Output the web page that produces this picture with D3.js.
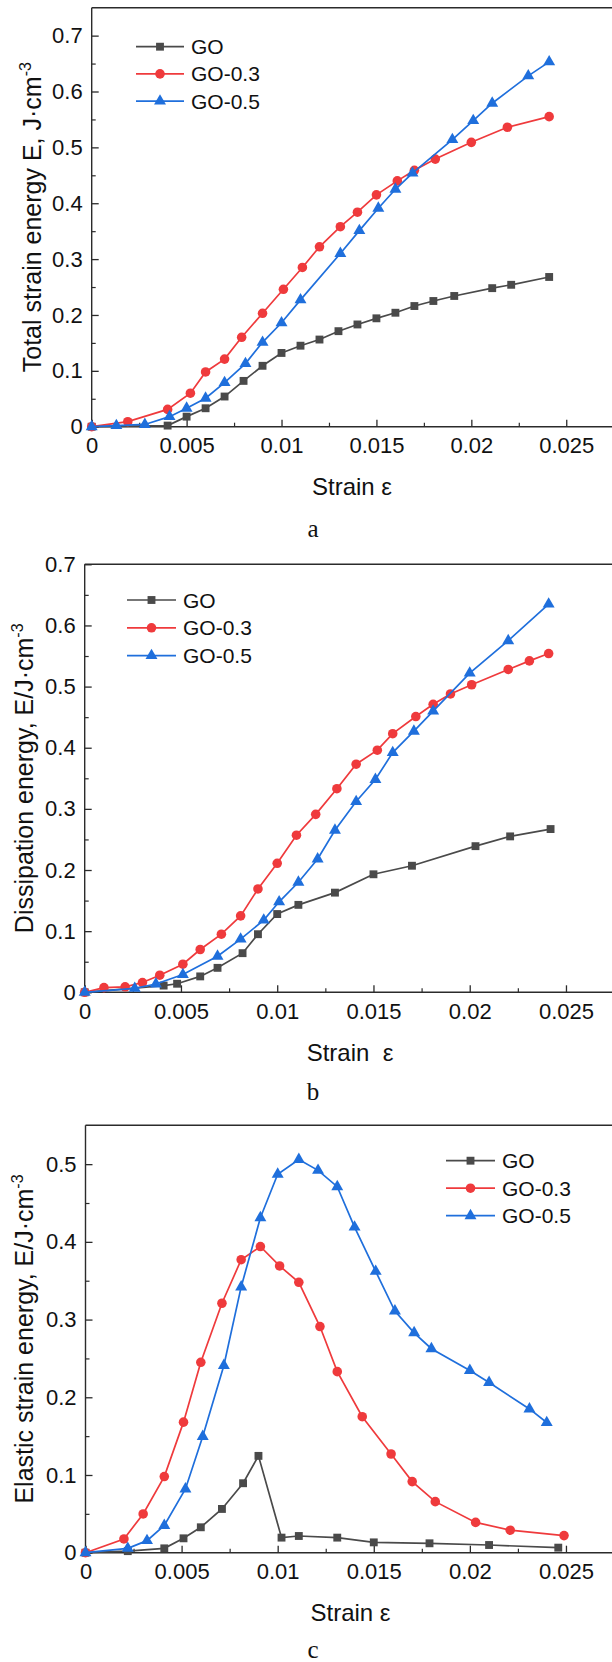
<!DOCTYPE html>
<html>
<head>
<meta charset="utf-8">
<script src="https://cdn.jsdelivr.net/npm/d3@7/dist/d3.min.js"></script>
<style>
  html, body { margin: 0; padding: 0; background: #fff; }
  svg { display: block; }
  text { font-family: "Liberation Sans", Arial, sans-serif; fill: #111; }
  .caption { font-family: "Liberation Serif", "Times New Roman", serif; }
</style>
</head>
<body>
<svg id="fig" width="612" height="1662"></svg>
<script>
// ---------- data ----------
const seriesNames = ["GO", "GO-0.3", "GO-0.5"];
const seriesColors = ["#4a4a4a", "#ef3a3c", "#1f6fdc"];
const seriesSymbols = ["square", "circle", "triangle"];

const xTickValues = [0, 0.005, 0.01, 0.015, 0.02, 0.025];
const xTickLabels = ["0", "0.005", "0.01", "0.015", "0.02", "0.025"];
const yTickLabelsA = ["0", "0.1", "0.2", "0.3", "0.4", "0.5", "0.6", "0.7"];
const yTickLabelsB = ["0", "0.1", "0.2", "0.3", "0.4", "0.5", "0.6", "0.7"];
const yTickLabelsC = ["0", "0.1", "0.2", "0.3", "0.4", "0.5"];

// (a) total strain energy
const totalStrainGO  = [0, 0.004, 0.005, 0.006, 0.007, 0.008, 0.009, 0.010, 0.011, 0.012, 0.013, 0.014, 0.015, 0.016, 0.017, 0.018, 0.0191, 0.0211, 0.0221, 0.0241];
const totalEnergyGO  = [0, 0.002, 0.018, 0.033, 0.054, 0.082, 0.109, 0.132, 0.145, 0.156, 0.171, 0.183, 0.194, 0.204, 0.216, 0.225, 0.234, 0.248, 0.254, 0.268];
const totalStrainG03 = [0, 0.0019, 0.0040, 0.0052, 0.0060, 0.0070, 0.0079, 0.0090, 0.0101, 0.0111, 0.0120, 0.0131, 0.0140, 0.0150, 0.0161, 0.0170, 0.0181, 0.0200, 0.0219, 0.0241];
const totalEnergyG03 = [0, 0.009, 0.031, 0.060, 0.098, 0.121, 0.160, 0.203, 0.246, 0.285, 0.322, 0.358, 0.384, 0.415, 0.440, 0.459, 0.479, 0.509, 0.536, 0.555];
const totalStrainG05 = [0, 0.0013, 0.0028, 0.0041, 0.0050, 0.0060, 0.0070, 0.0081, 0.0090, 0.0100, 0.0110, 0.0131, 0.0141, 0.0151, 0.0160, 0.0169, 0.0190, 0.0201, 0.0211, 0.0230, 0.0241];
const totalEnergyG05 = [0, 0.002, 0.004, 0.018, 0.033, 0.051, 0.079, 0.113, 0.151, 0.186, 0.227, 0.310, 0.351, 0.391, 0.425, 0.454, 0.514, 0.548, 0.579, 0.628, 0.653];

// (b) dissipation energy
const dissStrainGO  = [0, 0.0041, 0.0048, 0.0060, 0.0069, 0.0082, 0.0090, 0.0100, 0.0111, 0.0130, 0.0150, 0.0170, 0.0203, 0.0221, 0.0242];
const dissEnergyGO  = [0, 0.011, 0.014, 0.026, 0.040, 0.064, 0.095, 0.128, 0.143, 0.163, 0.193, 0.207, 0.239, 0.255, 0.267];
const dissStrainG03 = [0, 0.0010, 0.0021, 0.0030, 0.0039, 0.0051, 0.0060, 0.0071, 0.0081, 0.0090, 0.0100, 0.0110, 0.0120, 0.0131, 0.0141, 0.0152, 0.0160, 0.0172, 0.0181, 0.0190, 0.0201, 0.0220, 0.0231, 0.0241];
const dissEnergyG03 = [0, 0.0076, 0.009, 0.016, 0.028, 0.046, 0.070, 0.095, 0.125, 0.169, 0.211, 0.257, 0.291, 0.333, 0.373, 0.396, 0.423, 0.451, 0.471, 0.488, 0.503, 0.528, 0.542, 0.554];
const dissStrainG05 = [0, 0.0026, 0.0037, 0.0051, 0.0069, 0.0081, 0.0093, 0.0101, 0.0111, 0.0121, 0.0130, 0.0141, 0.0151, 0.0160, 0.0171, 0.0181, 0.0200, 0.0220, 0.0241];
const dissEnergyG05 = [0, 0.0065, 0.0136, 0.029, 0.059, 0.087, 0.118, 0.148, 0.180, 0.218, 0.265, 0.312, 0.348, 0.392, 0.427, 0.460, 0.522, 0.575, 0.635];

// (c) elastic strain energy
const elasStrainGO  = [0, 0.0022, 0.0041, 0.0051, 0.0060, 0.0071, 0.0082, 0.0090, 0.0102, 0.0111, 0.0131, 0.0150, 0.0179, 0.0210, 0.0246];
const elasEnergyGO  = [0, 0.002, 0.0056, 0.0185, 0.0327, 0.0563, 0.0894, 0.1246, 0.0194, 0.0215, 0.0194, 0.0133, 0.0121, 0.0099, 0.0065];
const elasStrainG03 = [0, 0.0020, 0.0030, 0.0041, 0.0051, 0.0060, 0.0071, 0.0081, 0.0091, 0.0101, 0.0111, 0.0122, 0.0131, 0.0144, 0.0159, 0.0170, 0.0182, 0.0203, 0.0221, 0.0249];
const elasEnergyG03 = [0, 0.0177, 0.0499, 0.098, 0.168, 0.245, 0.321, 0.377, 0.394, 0.369, 0.348, 0.291, 0.233, 0.175, 0.127, 0.0915, 0.0657, 0.039, 0.029, 0.022];
const elasStrainG05 = [0, 0.0022, 0.0032, 0.0041, 0.0052, 0.0061, 0.0072, 0.0081, 0.0091, 0.0100, 0.0111, 0.0121, 0.0131, 0.0140, 0.0151, 0.0161, 0.0171, 0.0180, 0.0200, 0.0210, 0.0231, 0.0240];
const elasEnergyG05 = [0, 0.0056, 0.0155, 0.035, 0.082, 0.1495, 0.241, 0.342, 0.431, 0.487, 0.506, 0.492, 0.471, 0.419, 0.362, 0.311, 0.283, 0.2625, 0.2345, 0.219, 0.185, 0.1675];

// ---------- drawing ----------
const svg = d3.select("#fig");
svg.append("rect").attr("width", 612).attr("height", 1662).attr("fill", "#fff");

const AXIS_COLOR = "#2b2b2b";

function symbolPath(kind) {
  if (kind === "square") return d3.symbol().type(d3.symbolSquare).size(62)();
  if (kind === "circle") return d3.symbol().type(d3.symbolCircle).size(72)();
  return d3.symbol().type(d3.symbolTriangle).size(62)();
}

function drawPanel(p) {
  const g = svg.append("g");
  const x = d3.scaleLinear().domain([0, 0.0275]).range([p.left, p.right]);
  const y = d3.scaleLinear().domain([0, p.yMax]).range([p.bottom, p.top]);

  // top frame line (the right side runs off the page)
  g.append("line")
    .attr("x1", p.left).attr("x2", p.right + 4)
    .attr("y1", p.top).attr("y2", p.top)
    .attr("stroke", AXIS_COLOR).attr("stroke-width", 1.4);

  // minor ticks
  const xMinor = d3.range(0, 0.0276, 0.0025).filter(v => Math.round(v / 0.0025) % 2 === 1);
  g.append("g").attr("transform", `translate(0,${p.bottom})`)
    .call(d3.axisBottom(x).tickValues(xMinor).tickSize(-4).tickFormat(""))
    .call(s => s.select(".domain").remove())
    .selectAll("line").attr("stroke", AXIS_COLOR).attr("stroke-width", 1.2);
  const yMinor = d3.range(0.05, p.yMax, 0.1);
  g.append("g").attr("transform", `translate(${p.left},0)`)
    .call(d3.axisLeft(y).tickValues(yMinor).tickSize(-4).tickFormat(""))
    .call(s => s.select(".domain").remove())
    .selectAll("line").attr("stroke", AXIS_COLOR).attr("stroke-width", 1.2);

  // major axes
  const xAxis = g.append("g").attr("transform", `translate(0,${p.bottom})`)
    .call(d3.axisBottom(x).tickValues(xTickValues).tickSizeInner(-7).tickSizeOuter(0)
      .tickPadding(11).tickFormat((d, i) => xTickLabels[i]));
  const yVals = p.yLabels.map(Number);
  const yAxis = g.append("g").attr("transform", `translate(${p.left},0)`)
    .call(d3.axisLeft(y).tickValues(yVals).tickSizeInner(-7).tickSizeOuter(0)
      .tickPadding(9).tickFormat((d, i) => p.yLabels[i]));
  [xAxis, yAxis].forEach(a => {
    a.select(".domain").attr("stroke", AXIS_COLOR).attr("stroke-width", 1.4);
    a.selectAll(".tick line").attr("stroke", AXIS_COLOR).attr("stroke-width", 1.3);
    a.selectAll(".tick text").attr("font-size", 22).attr("font-family", "Liberation Sans, Arial, sans-serif").attr("fill", "#111");
  });
  xAxis.select(".domain").attr("d", `M${p.left},0H${p.right + 4}`);
  yAxis.select(".domain").attr("d", `M0,${p.bottom}V${p.top}`);

  // series: connecting line plus markers
  const line = d3.line().x(d => x(d[0])).y(d => y(d[1]));
  p.series.forEach((s, i) => {
    const pts = s.xs.map((v, k) => [v, s.ys[k]]);
    g.append("path").datum(pts)
      .attr("d", line).attr("fill", "none")
      .attr("stroke", seriesColors[i]).attr("stroke-width", 1.7);
    g.append("g").selectAll("path").data(pts).join("path")
      .attr("d", symbolPath(seriesSymbols[i]))
      .attr("transform", d => `translate(${x(d[0])},${y(d[1])})`)
      .attr("fill", seriesColors[i]);
  });

  // legend
  seriesNames.forEach((name, i) => {
    const ly = p.legend.y0 + i * p.legend.dy;
    g.append("line")
      .attr("x1", p.legend.x1).attr("x2", p.legend.x2)
      .attr("y1", ly).attr("y2", ly)
      .attr("stroke", seriesColors[i]).attr("stroke-width", 1.7);
    g.append("path").attr("d", symbolPath(seriesSymbols[i]))
      .attr("transform", `translate(${(p.legend.x1 + p.legend.x2) / 2},${ly})`)
      .attr("fill", seriesColors[i]);
    g.append("text").attr("x", p.legend.x2 + 7).attr("y", ly).attr("dy", "0.36em")
      .attr("font-size", 21).text(name);
  });

  // axis titles
  g.append("text").attr("x", p.xTitle.x).attr("y", p.xTitle.y)
    .attr("text-anchor", "middle").attr("font-size", 24)
    .style("white-space", "pre").text(p.xTitle.text);
  const yt = g.append("text")
    .attr("transform", `translate(${p.yTitle.x},${(p.top + p.bottom) / 2}) rotate(-90)`)
    .attr("text-anchor", "middle").attr("font-size", 25).style("white-space", "pre");
  yt.append("tspan").text(p.yTitle.text);
  yt.append("tspan").attr("dy", "-0.62em").attr("font-size", 16).text("-3");

  // panel caption
  g.append("text").attr("class", "caption")
    .attr("x", 313).attr("y", p.caption.y)
    .attr("text-anchor", "middle").attr("font-size", 25)
    .text(p.caption.text);
}

drawPanel({
  left: 91.7, right: 613.7, top: 7.7, bottom: 426.7, yMax: 0.75, yLabels: yTickLabelsA,
  series: [
    { xs: totalStrainGO, ys: totalEnergyGO },
    { xs: totalStrainG03, ys: totalEnergyG03 },
    { xs: totalStrainG05, ys: totalEnergyG05 }
  ],
  legend: { x1: 136, x2: 184, y0: 46.7, dy: 27.2 },
  xTitle: { x: 352, y: 495, text: "Strain ε" },
  yTitle: { x: 41, text: "Total strain energy E, J·cm" },
  caption: { y: 537, text: "a" }
});

drawPanel({
  left: 84.7, right: 614.1, top: 564.3, bottom: 992.3, yMax: 0.7, yLabels: yTickLabelsB,
  series: [
    { xs: dissStrainGO, ys: dissEnergyGO },
    { xs: dissStrainG03, ys: dissEnergyG03 },
    { xs: dissStrainG05, ys: dissEnergyG05 }
  ],
  legend: { x1: 127, x2: 176, y0: 600, dy: 27.8 },
  xTitle: { x: 350, y: 1060.5, text: "Strain  ε" },
  yTitle: { x: 33, text: "Dissipation energy, E/J·cm" },
  caption: { y: 1100, text: "b" }
});

drawPanel({
  left: 85.5, right: 614, top: 1125.3, bottom: 1552.7, yMax: 0.55, yLabels: yTickLabelsC,
  series: [
    { xs: elasStrainGO, ys: elasEnergyGO },
    { xs: elasStrainG03, ys: elasEnergyG03 },
    { xs: elasStrainG05, ys: elasEnergyG05 }
  ],
  legend: { x1: 446, x2: 495, y0: 1160.7, dy: 27.5 },
  xTitle: { x: 350.5, y: 1621, text: "Strain ε" },
  yTitle: { x: 33, text: "Elastic strain energy, E/J·cm" },
  caption: { y: 1658, text: "c" }
});
</script>
</body>
</html>
